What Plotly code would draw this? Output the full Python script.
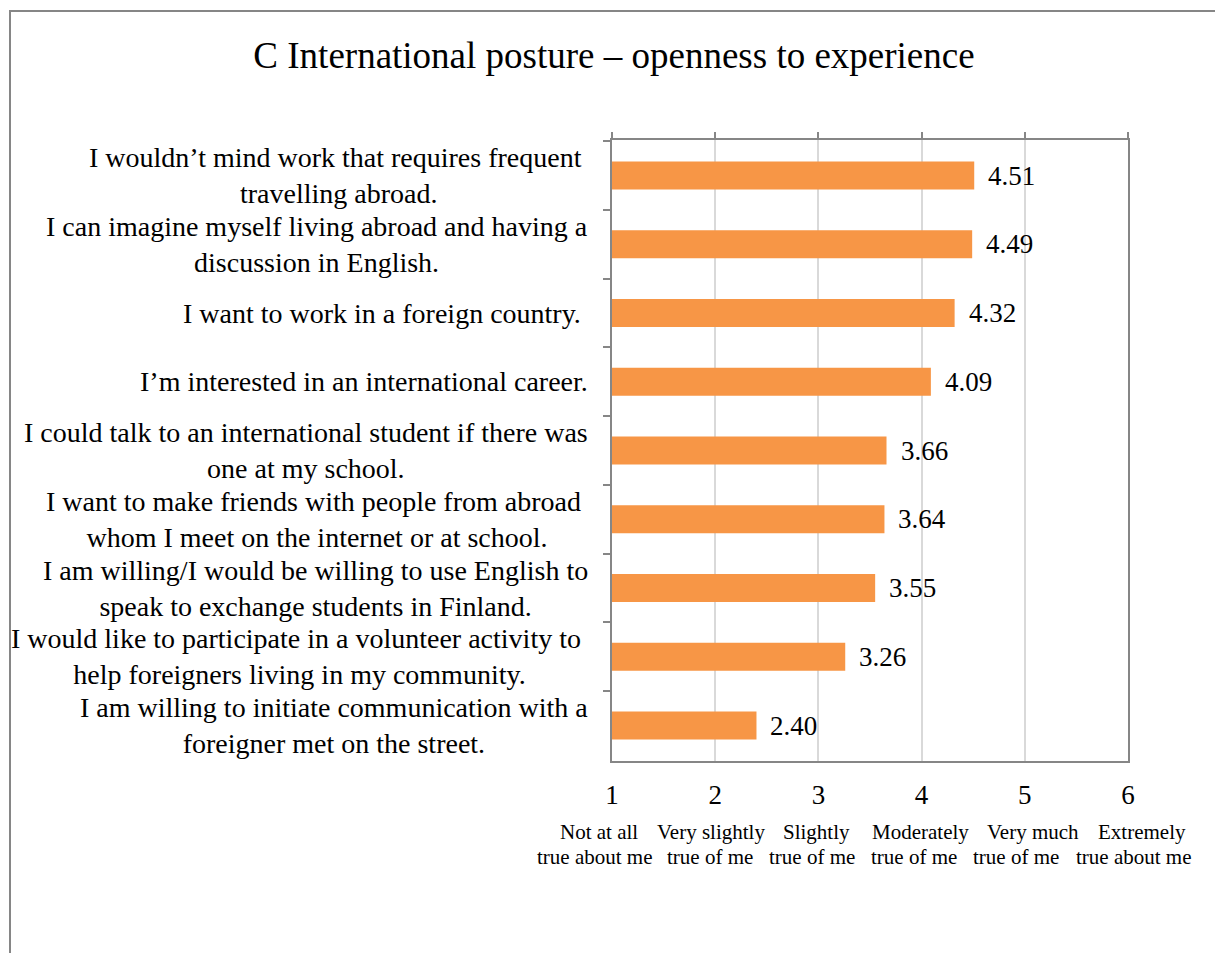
import plotly.graph_objects as go

# Survey statements (top to bottom) and their mean scores
statements = [
    "I wouldn\u2019t mind work that requires frequent\u00a0<br>travelling abroad.",
    "I can imagine myself living abroad and having a<br>discussion in English.",
    "I want to work in a foreign country.\u00a0",
    "I\u2019m interested in an international career.",
    "I could talk to an international student if there was<br>one at my school.",
    "I want to make friends with people from abroad\u00a0<br>whom I meet on the internet or at school.",
    "I am willing/I would be willing to use English to<br>speak to exchange students in Finland.",
    "I would like to participate in a volunteer activity to\u00a0<br>help foreigners living in my community.",
    "I am willing to initiate communication with a<br>foreigner met on the street.",
]
means = [4.51, 4.49, 4.32, 4.09, 3.66, 3.64, 3.55, 3.26, 2.40]

# Likert scale ticks and their verbal anchors
scale_ticks = [1, 2, 3, 4, 5, 6]
scale_anchors = [
    "Not at all<br>true about me",
    "Very slightly<br>true of me",
    "Slightly<br>true of me",
    "Moderately<br>true of me",
    "Very much<br>true of me",
    "Extremely<br>true about me",
]

W, H = 1215, 953
PL, PR, PT, PB = 612, 1128, 140, 761  # plot-area edges in pixels
FONT = "Liberation Serif, Times New Roman, serif"
ORANGE = "#F79646"
AXIS = "#868686"
GRID = "#D9D9D9"


def px_to_paper_x(px):
    return (px - PL) / (PR - PL)


def px_to_paper_y(py):
    return (PB - py) / (PB - PT)


fig = go.Figure()

fig.add_trace(go.Bar(
    x=means,
    y=statements,
    orientation="h",
    marker=dict(color=ORANGE, line=dict(width=0)),
    hoverinfo="x+y",
    showlegend=False,
))

# invisible trace carrying the top tick axis
fig.add_trace(go.Scatter(
    x=means,
    y=statements,
    xaxis="x2",
    mode="markers",
    marker=dict(opacity=0),
    hoverinfo="skip",
    showlegend=False,
))

annotations = []

# statement labels, centred lines, right-aligned block next to the axis
for s in statements:
    annotations.append(dict(
        x=0, xref="paper", xanchor="right", xshift=-22,
        y=s, yref="y", yanchor="middle",
        text=s, showarrow=False, align="center",
        font=dict(family=FONT, size=28, color="black"),
    ))

# value labels just past the end of each bar
for s, v in zip(statements, means):
    annotations.append(dict(
        x=v, xref="x", xanchor="left", xshift=12,
        y=s, yref="y", yanchor="middle",
        text=f"{v:.2f}", showarrow=False,
        font=dict(family=FONT, size=27, color="black"),
    ))

# verbal anchors of the scale: a two-row text block under the axis numbers
row_centres = ([599, 711, 816, 920, 1033, 1142],   # first line of each anchor
               [594, 710, 812, 914, 1016, 1133])   # second line
row_y = (832, 857)
for i, a in enumerate(scale_anchors):
    for r, line in enumerate(a.split("<br>")):
        annotations.append(dict(
            x=px_to_paper_x(row_centres[r][i]), xref="paper", xanchor="center",
            y=px_to_paper_y(row_y[r]), yref="paper", yanchor="middle",
            text=line, showarrow=False,
            font=dict(family=FONT, size=21, color="black"),
        ))

# outer chart frame (top and left edges visible)
frame = dict(
    type="path", xref="paper", yref="paper",
    path=(f"M {px_to_paper_x(1230)},{px_to_paper_y(11)} "
          f"L {px_to_paper_x(10)},{px_to_paper_y(11)} "
          f"L {px_to_paper_x(10)},{px_to_paper_y(970)}"),
    line=dict(color=AXIS, width=2),
)

fig.update_layout(
    width=W, height=H,
    margin=dict(l=PL, r=W - PR, t=PT, b=H - PB, pad=0),
    paper_bgcolor="white",
    plot_bgcolor="white",
    bargap=0.59,
    title=dict(
        text="C International posture \u2013 openness to experience",
        x=614 / W, xanchor="center", xref="container",
        y=1 - 55 / H, yanchor="middle", yref="container",
        font=dict(family=FONT, size=37, color="black"),
    ),
    xaxis=dict(
        range=[1, 6],
        tickvals=scale_ticks,
        ticktext=[str(t) for t in scale_ticks],
        ticks="",
        ticklabelstandoff=9,
        showgrid=True, gridcolor=GRID, gridwidth=1.5,
        showline=True, linecolor=AXIS, linewidth=2, mirror=True,
        zeroline=False,
        tickfont=dict(family=FONT, size=27, color="black"),
        fixedrange=True,
    ),
    xaxis2=dict(
        range=[1, 6],
        overlaying="x",
        side="top",
        anchor="y",
        tickvals=scale_ticks,
        ticks="outside", ticklen=7, tickwidth=2, tickcolor=AXIS,
        showticklabels=False,
        showgrid=False, showline=False, zeroline=False,
        fixedrange=True,
    ),
    yaxis=dict(
        autorange="reversed",
        type="category",
        showticklabels=False,
        ticks="outside", tickson="boundaries", ticklen=7, tickwidth=2, tickcolor=AXIS,
        showgrid=False,
        showline=True, linecolor=AXIS, linewidth=2, mirror=True,
        zeroline=False,
        fixedrange=True,
    ),
    annotations=annotations,
    shapes=[frame],
)

fig.write_html("out.html")
